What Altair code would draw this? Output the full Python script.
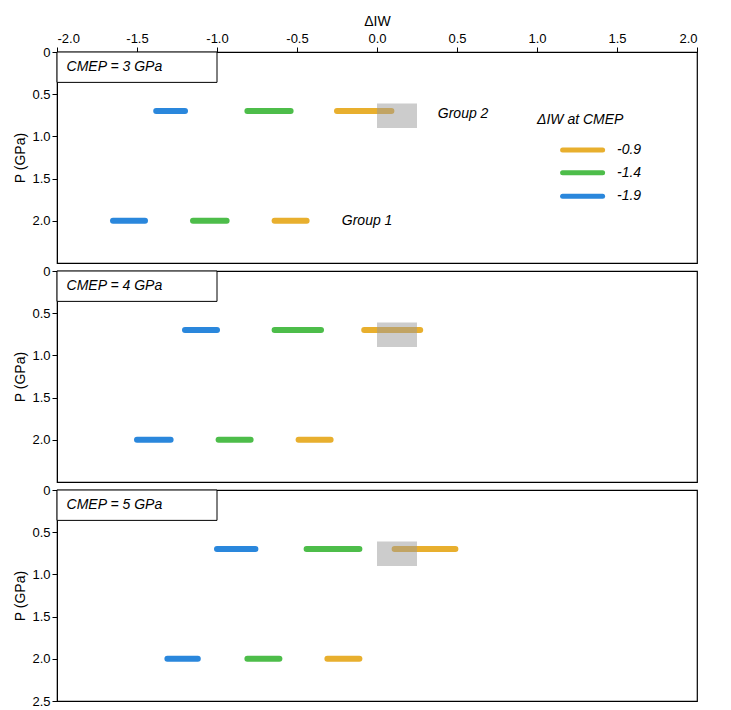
import altair as alt
import pandas as pd

panels = ["CMEP = 3 GPa", "CMEP = 4 GPa", "CMEP = 5 GPa"]
series = ["-0.9", "-1.4", "-1.9"]
colors = ["#E8AF2E", "#4DBD4A", "#2A87DC"]

# x start / x end for P = 0.7 and P = 2.0, per panel, per series (-0.9, -1.4, -1.9)
p_levels = [0.7, 2.0]
x0 = {
    0: {0.7: [-0.25, -0.81, -1.38], 2.0: [-0.64, -1.15, -1.65]},
    1: {0.7: [-0.08, -0.64, -1.20], 2.0: [-0.49, -0.99, -1.50]},
    2: {0.7: [0.11, -0.44, -1.00], 2.0: [-0.31, -0.81, -1.31]},
}
x1 = {
    0: {0.7: [0.09, -0.54, -1.20], 2.0: [-0.44, -0.94, -1.45]},
    1: {0.7: [0.27, -0.35, -1.00], 2.0: [-0.29, -0.79, -1.29]},
    2: {0.7: [0.49, -0.11, -0.76], 2.0: [-0.11, -0.61, -1.12]},
}

xscale = alt.Scale(domain=[-2, 2], nice=False)
yscale = alt.Scale(domain=[2.5, 0], nice=False)
cscale = alt.Scale(domain=series, range=colors)

charts = []
for i, name in enumerate(panels):
    rows = []
    for p in p_levels:
        for k, s in enumerate(series):
            rows.append({"x": x0[i][p][k], "x2": x1[i][p][k], "p": p, "s": s})
    df = pd.DataFrame(rows)

    if i == 0:
        xaxis = alt.Axis(orient="top", title="ΔIW", values=[-2, -1.5, -1, -0.5, 0, 0.5, 1, 1.5, 2],
                         labelExpr="replace(format(datum.value, '.1f'), '−', '-')",
                         labelFontSize=13, titleFontSize=14, titleFontWeight="normal",
                         grid=False, labelColor="black", tickColor="black", domainColor="black")
    else:
        xaxis = None
    yvals = [0, 0.5, 1, 1.5, 2] if i < 2 else [0, 0.5, 1, 1.5, 2, 2.5]
    yaxis = alt.Axis(title="P (GPa)", values=yvals,
                     labelExpr="datum.value == 0 ? '0' : format(datum.value, '.1f')",
                     labelFontSize=13, titleFontSize=14, titleFontWeight="normal", grid=False,
                     labelColor="black", tickColor="black", domainColor="black")

    base = alt.Chart(pd.DataFrame({"x": [0], "y": [0]})).mark_point(opacity=0).encode(
        x=alt.X("x:Q", scale=xscale, axis=xaxis), y=alt.Y("y:Q", scale=yscale, axis=yaxis))

    lines = alt.Chart(df).mark_rule(strokeWidth=6, strokeCap="round").encode(
        x=alt.X("x:Q", scale=xscale), x2="x2", y=alt.Y("p:Q", scale=yscale),
        color=alt.Color("s:N", scale=cscale, legend=None))

    box = alt.Chart(pd.DataFrame({"x": [0], "x2": [0.25], "y": [0.61], "y2": [0.9]})).mark_rect(
        color="#999999", opacity=0.5).encode(
        x=alt.X("x:Q", scale=xscale), x2="x2", y=alt.Y("y:Q", scale=yscale), y2="y2")

    label_box = alt.Chart(pd.DataFrame({"x": [-2], "x2": [-1.0], "y": [0], "y2": [0.36]})).mark_rect(
        fill="white", stroke="black", strokeWidth=1).encode(
        x=alt.X("x:Q", scale=xscale), x2="x2", y=alt.Y("y:Q", scale=yscale), y2="y2")
    label = alt.Chart(pd.DataFrame({"x": [-1.94], "y": [0.18], "t": [name]})).mark_text(
        align="left", baseline="middle", fontSize=14, fontStyle="italic", font="Arial").encode(
        x=alt.X("x:Q", scale=xscale), y=alt.Y("y:Q", scale=yscale), text="t:N")

    layers = [base, lines, box, label_box, label]
    if i == 0:
        txt = pd.DataFrame({"x": [0.38, -0.22, 1.0], "y": [0.74, 2.0, 0.8],
                            "t": ["Group 2", "Group 1", "ΔIW at CMEP"]})
        layers.append(alt.Chart(txt).mark_text(align="left", baseline="middle", fontSize=14,
                                              fontStyle="italic", font="Arial").encode(
            x=alt.X("x:Q", scale=xscale), y=alt.Y("y:Q", scale=yscale), text="t:N"))
        leg = pd.DataFrame({"x": [1.16] * 3, "x2": [1.41] * 3, "y": [1.16, 1.43, 1.71], "s": series})
        layers.append(alt.Chart(leg).mark_rule(strokeWidth=5, strokeCap="round").encode(
            x=alt.X("x:Q", scale=xscale), x2="x2", y=alt.Y("y:Q", scale=yscale),
            color=alt.Color("s:N", scale=cscale, legend=None)))
        leg["lx"] = 1.5
        layers.append(alt.Chart(leg).mark_text(align="left", baseline="middle", fontSize=14,
                                              fontStyle="italic", font="Arial").encode(
            x=alt.X("lx:Q", scale=xscale), y=alt.Y("y:Q", scale=yscale), text="s:N"))

    charts.append(alt.layer(*layers).properties(width=640, height=211))

chart = alt.vconcat(*charts, spacing=0).configure_view(stroke="black", strokeWidth=1.2).configure_axis(
    labelFont="Arial", titleFont="Arial")
chart.save("out.html", embed_options={"renderer": "svg", "actions": False})
